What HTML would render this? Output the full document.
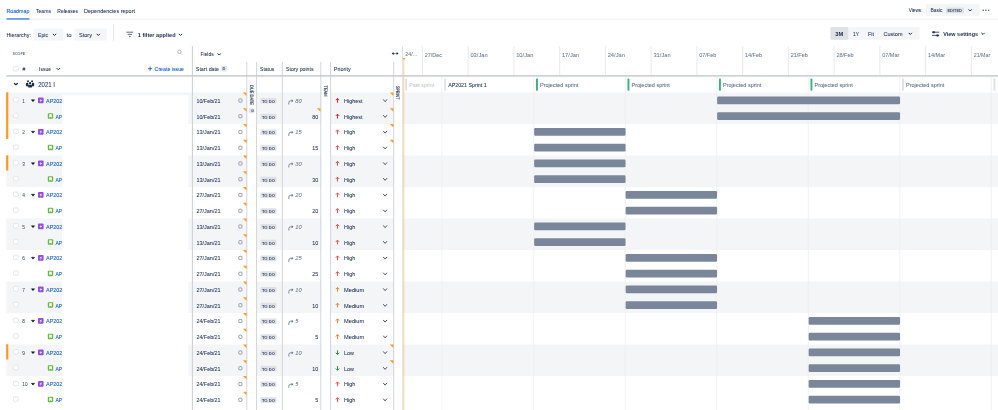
<!DOCTYPE html>
<html><head><meta charset="utf-8"><title>Roadmap</title>
<style>
html,body{margin:0;padding:0;background:#fff;}
body{width:998px;height:410px;overflow:hidden;font-family:"Liberation Sans",sans-serif;}
svg{display:block;font-family:"Liberation Sans",sans-serif;will-change:transform;}
</style></head><body>
<svg width="998" height="410" viewBox="0 0 998 410">
<rect width="998" height="410" fill="#fff"/>
<text x="6.4" y="13.4" font-size="5.9" fill="#0052cc" textLength="23" lengthAdjust="spacingAndGlyphs" stroke="#0052cc" stroke-width="0.05" >Roadmap</text>
<text x="36" y="13.4" font-size="5.9" fill="#172b4d" textLength="15" lengthAdjust="spacingAndGlyphs" stroke="#172b4d" stroke-width="0.05" >Teams</text>
<text x="57.3" y="13.4" font-size="5.9" fill="#172b4d" textLength="20.7" lengthAdjust="spacingAndGlyphs" stroke="#172b4d" stroke-width="0.05" >Releases</text>
<text x="84" y="13.4" font-size="5.9" fill="#172b4d" textLength="51" lengthAdjust="spacingAndGlyphs" stroke="#172b4d" stroke-width="0.05" >Dependencies report</text>
<line x1="0" y1="19.1" x2="998" y2="19.1" stroke="#ebecf0" stroke-width="0.9" />
<rect x="6.4" y="18.2" width="23" height="1.5" fill="#4c8be0" />
<text x="908.8" y="12.2" font-size="5.2" fill="#172b4d" textLength="13.7" lengthAdjust="spacingAndGlyphs" stroke="#172b4d" stroke-width="0.05" >Views:</text>
<rect x="925.8" y="4" width="53.8" height="11.9" fill="#f4f5f7" rx="1.2" />
<text x="930.5" y="12.2" font-size="5.9" fill="#172b4d" textLength="12" lengthAdjust="spacingAndGlyphs" stroke="#172b4d" stroke-width="0.05" >Basic</text>
<rect x="946" y="7.6" width="18" height="5.6" fill="#dfe1e6" rx="1" />
<text x="947.4" y="12.0" font-size="4.3" fill="#42526e" font-weight="bold" textLength="14.6" lengthAdjust="spacingAndGlyphs" >EDITED</text>
<polyline points="968.85,9.625 970.2,10.975000000000001 971.5500000000001,9.625" fill="none" stroke="#172b4d" stroke-width="1.0" stroke-linecap="round" stroke-linejoin="round"/>
<circle cx="983.2" cy="10.2" r="0.75" fill="#42526e"/>
<circle cx="985.9" cy="10.2" r="0.75" fill="#42526e"/>
<circle cx="988.6" cy="10.2" r="0.75" fill="#42526e"/>
<text x="6.4" y="36.7" font-size="5.9" fill="#172b4d" textLength="24.6" lengthAdjust="spacingAndGlyphs" stroke="#172b4d" stroke-width="0.05" >Hierarchy:</text>
<rect x="33.6" y="28.4" width="29.9" height="12.2" fill="#f4f5f7" rx="1.2" />
<text x="38" y="36.7" font-size="5.9" fill="#172b4d" textLength="10" lengthAdjust="spacingAndGlyphs" stroke="#172b4d" stroke-width="0.05" >Epic</text>
<polyline points="53.15,34.125 54.5,35.474999999999994 55.85,34.125" fill="none" stroke="#172b4d" stroke-width="1.0" stroke-linecap="round" stroke-linejoin="round"/>
<text x="66.5" y="36.7" font-size="5.9" fill="#172b4d" textLength="5" lengthAdjust="spacingAndGlyphs" stroke="#172b4d" stroke-width="0.05" >to</text>
<rect x="74.5" y="28.4" width="32.5" height="12.2" fill="#f4f5f7" rx="1.2" />
<text x="79" y="36.7" font-size="5.9" fill="#172b4d" textLength="13" lengthAdjust="spacingAndGlyphs" stroke="#172b4d" stroke-width="0.05" >Story</text>
<polyline points="96.95,34.125 98.3,35.474999999999994 99.64999999999999,34.125" fill="none" stroke="#172b4d" stroke-width="1.0" stroke-linecap="round" stroke-linejoin="round"/>
<line x1="113.5" y1="24" x2="113.5" y2="41.3" stroke="#dfe1e6" stroke-width="0.8" />
<line x1="126.4" y1="32.2" x2="133.2" y2="32.2" stroke="#172b4d" stroke-width="0.7" />
<line x1="127.6" y1="34.4" x2="132" y2="34.4" stroke="#172b4d" stroke-width="0.7" />
<line x1="129" y1="36.6" x2="130.6" y2="36.6" stroke="#172b4d" stroke-width="0.7" />
<text x="137.8" y="36.7" font-size="5.9" fill="#172b4d" font-weight="bold" textLength="37.8" lengthAdjust="spacingAndGlyphs" >1 filter applied</text>
<polyline points="179.15,34.125 180.5,35.474999999999994 181.85,34.125" fill="none" stroke="#172b4d" stroke-width="1.0" stroke-linecap="round" stroke-linejoin="round"/>
<rect x="830.5" y="27" width="89" height="12.7" fill="#f4f5f7" rx="1.2" />
<rect x="830.5" y="27" width="17.8" height="12.7" fill="#dfe1e6" rx="1.2" />
<text x="835.2" y="35.5" font-size="5.9" fill="#172b4d" font-weight="bold" textLength="8" lengthAdjust="spacingAndGlyphs" >3M</text>
<text x="853" y="35.5" font-size="5.9" fill="#172b4d" textLength="6" lengthAdjust="spacingAndGlyphs" stroke="#172b4d" stroke-width="0.05" >1Y</text>
<text x="868" y="35.5" font-size="5.9" fill="#172b4d" textLength="6" lengthAdjust="spacingAndGlyphs" stroke="#172b4d" stroke-width="0.05" >Fit</text>
<text x="883.5" y="35.5" font-size="5.9" fill="#172b4d" textLength="19" lengthAdjust="spacingAndGlyphs" stroke="#172b4d" stroke-width="0.05" >Custom</text>
<polyline points="908.9499999999999,33.125 910.3,34.474999999999994 911.65,33.125" fill="none" stroke="#172b4d" stroke-width="1.0" stroke-linecap="round" stroke-linejoin="round"/>
<line x1="932" y1="32.2" x2="939.2" y2="32.2" stroke="#172b4d" stroke-width="0.8" />
<line x1="932" y1="35.4" x2="939.2" y2="35.4" stroke="#172b4d" stroke-width="0.8" />
<rect x="932.6" y="31.2" width="2.2" height="2" fill="#172b4d" rx="0.4" />
<rect x="936.4" y="34.4" width="2.2" height="2" fill="#172b4d" rx="0.4" />
<text x="943.3" y="35.5" font-size="5.9" fill="#172b4d" font-weight="bold" textLength="34.7" lengthAdjust="spacingAndGlyphs" >View settings</text>
<polyline points="981.65,33.125 983,34.474999999999994 984.35,33.125" fill="none" stroke="#172b4d" stroke-width="1.0" stroke-linecap="round" stroke-linejoin="round"/>
<rect x="6.3" y="92.5" width="991.7" height="31.5" fill="#f4f5f7" />
<rect x="6.3" y="155.5" width="991.7" height="31.5" fill="#f4f5f7" />
<rect x="6.3" y="218.5" width="991.7" height="31.5" fill="#f4f5f7" />
<rect x="6.3" y="281.5" width="991.7" height="31.5" fill="#f4f5f7" />
<rect x="6.3" y="344.5" width="991.7" height="31.5" fill="#f4f5f7" />
<rect x="247.3" y="62" width="9.0" height="348" fill="#fff" />
<rect x="321.4" y="62" width="9.0" height="348" fill="#fff" />
<rect x="394" y="62" width="8.600000000000023" height="348" fill="#fff" />
<rect x="62" y="95.3" width="126.4" height="314.7" fill="#fff" />
<rect x="6.1" y="92.3" width="2.2" height="46.65" fill="#ff991f" />
<rect x="6.1" y="155.3" width="2.2" height="15.15" fill="#ff991f" />
<rect x="6.1" y="344.3" width="2.2" height="15.15" fill="#ff991f" />
<line x1="192.4" y1="46" x2="192.4" y2="410" stroke="#c9ced7" stroke-width="1" />
<line x1="246.8" y1="62" x2="246.8" y2="410" stroke="#d0d5dd" stroke-width="1.0" />
<line x1="256.6" y1="62" x2="256.6" y2="410" stroke="#d0d5dd" stroke-width="1.0" />
<line x1="282.3" y1="62" x2="282.3" y2="410" stroke="#d0d5dd" stroke-width="1.0" />
<line x1="320.8" y1="62" x2="320.8" y2="410" stroke="#d0d5dd" stroke-width="1.0" />
<line x1="330.6" y1="62" x2="330.6" y2="410" stroke="#d0d5dd" stroke-width="1.0" />
<line x1="393.7" y1="62" x2="393.7" y2="410" stroke="#d0d5dd" stroke-width="1.0" />
<line x1="402.6" y1="46" x2="402.6" y2="59" stroke="#dfe1e6" stroke-width="1" />
<line x1="422.4" y1="46" x2="422.4" y2="75.5" stroke="#e4e6ea" stroke-width="0.9" />
<text x="424.7" y="56.5" font-size="5.6" fill="#6b778c" textLength="17.2" lengthAdjust="spacingAndGlyphs" stroke="#6b778c" stroke-width="0.05" >27/Dec</text>
<line x1="468.15" y1="46" x2="468.15" y2="75.5" stroke="#e4e6ea" stroke-width="0.9" />
<text x="470.45" y="56.5" font-size="5.6" fill="#6b778c" textLength="17.2" lengthAdjust="spacingAndGlyphs" stroke="#6b778c" stroke-width="0.05" >03/Jan</text>
<line x1="513.9" y1="46" x2="513.9" y2="75.5" stroke="#e4e6ea" stroke-width="0.9" />
<text x="516.1999999999999" y="56.5" font-size="5.6" fill="#6b778c" textLength="17.2" lengthAdjust="spacingAndGlyphs" stroke="#6b778c" stroke-width="0.05" >10/Jan</text>
<line x1="559.65" y1="46" x2="559.65" y2="75.5" stroke="#e4e6ea" stroke-width="0.9" />
<text x="561.9499999999999" y="56.5" font-size="5.6" fill="#6b778c" textLength="17.2" lengthAdjust="spacingAndGlyphs" stroke="#6b778c" stroke-width="0.05" >17/Jan</text>
<line x1="605.4" y1="46" x2="605.4" y2="75.5" stroke="#e4e6ea" stroke-width="0.9" />
<text x="607.6999999999999" y="56.5" font-size="5.6" fill="#6b778c" textLength="17.2" lengthAdjust="spacingAndGlyphs" stroke="#6b778c" stroke-width="0.05" >24/Jan</text>
<line x1="651.15" y1="46" x2="651.15" y2="75.5" stroke="#e4e6ea" stroke-width="0.9" />
<text x="653.4499999999999" y="56.5" font-size="5.6" fill="#6b778c" textLength="17.2" lengthAdjust="spacingAndGlyphs" stroke="#6b778c" stroke-width="0.05" >31/Jan</text>
<line x1="696.9" y1="46" x2="696.9" y2="75.5" stroke="#e4e6ea" stroke-width="0.9" />
<text x="699.1999999999999" y="56.5" font-size="5.6" fill="#6b778c" textLength="17.2" lengthAdjust="spacingAndGlyphs" stroke="#6b778c" stroke-width="0.05" >07/Feb</text>
<line x1="742.65" y1="46" x2="742.65" y2="75.5" stroke="#e4e6ea" stroke-width="0.9" />
<text x="744.9499999999999" y="56.5" font-size="5.6" fill="#6b778c" textLength="17.2" lengthAdjust="spacingAndGlyphs" stroke="#6b778c" stroke-width="0.05" >14/Feb</text>
<line x1="788.4" y1="46" x2="788.4" y2="75.5" stroke="#e4e6ea" stroke-width="0.9" />
<text x="790.6999999999999" y="56.5" font-size="5.6" fill="#6b778c" textLength="17.2" lengthAdjust="spacingAndGlyphs" stroke="#6b778c" stroke-width="0.05" >21/Feb</text>
<line x1="834.15" y1="46" x2="834.15" y2="75.5" stroke="#e4e6ea" stroke-width="0.9" />
<text x="836.4499999999999" y="56.5" font-size="5.6" fill="#6b778c" textLength="17.2" lengthAdjust="spacingAndGlyphs" stroke="#6b778c" stroke-width="0.05" >28/Feb</text>
<line x1="879.9" y1="46" x2="879.9" y2="75.5" stroke="#e4e6ea" stroke-width="0.9" />
<text x="882.1999999999999" y="56.5" font-size="5.6" fill="#6b778c" textLength="17.2" lengthAdjust="spacingAndGlyphs" stroke="#6b778c" stroke-width="0.05" >07/Mar</text>
<line x1="925.65" y1="46" x2="925.65" y2="75.5" stroke="#e4e6ea" stroke-width="0.9" />
<text x="927.9499999999999" y="56.5" font-size="5.6" fill="#6b778c" textLength="17.2" lengthAdjust="spacingAndGlyphs" stroke="#6b778c" stroke-width="0.05" >14/Mar</text>
<line x1="971.4" y1="46" x2="971.4" y2="75.5" stroke="#e4e6ea" stroke-width="0.9" />
<text x="973.6999999999999" y="56.5" font-size="5.6" fill="#6b778c" textLength="16.6" lengthAdjust="spacingAndGlyphs" stroke="#6b778c" stroke-width="0.05" >21/Mar</text>
<text x="405.2" y="56.3" font-size="5.5" fill="#6b778c" textLength="12" lengthAdjust="spacingAndGlyphs" stroke="#6b778c" stroke-width="0.05" >24/...</text>
<line x1="441.9" y1="77" x2="441.9" y2="410" stroke="#eef0f2" stroke-width="0.9" />
<line x1="533.8" y1="77" x2="533.8" y2="410" stroke="#eef0f2" stroke-width="0.9" />
<line x1="625.3" y1="77" x2="625.3" y2="410" stroke="#eef0f2" stroke-width="0.9" />
<line x1="716.8" y1="77" x2="716.8" y2="410" stroke="#eef0f2" stroke-width="0.9" />
<line x1="808.3" y1="77" x2="808.3" y2="410" stroke="#eef0f2" stroke-width="0.9" />
<line x1="899.8" y1="77" x2="899.8" y2="410" stroke="#eef0f2" stroke-width="0.9" />
<line x1="991.3" y1="77" x2="991.3" y2="410" stroke="#eef0f2" stroke-width="0.9" />
<line x1="402.75" y1="59" x2="402.75" y2="410" stroke="#d3d7df" stroke-width="0.8" />
<rect x="403.35" y="59.5" width="0.9" height="350.5" fill="#fbcd85" />
<polygon points="402.3,57.9 405.5,57.9 403.9,60.1" fill="#ff991f"/>
<text x="12.5" y="55.0" font-size="3.9" fill="#6b778c" font-weight="bold" textLength="12.8" lengthAdjust="spacingAndGlyphs" >SCOPE</text>
<circle cx="179.3" cy="51.8" r="1.7" fill="none" stroke="#97a0af" stroke-width="0.7"/>
<line x1="180.6" y1="53.1" x2="182" y2="54.5" stroke="#97a0af" stroke-width="0.7" />
<text x="200.6" y="56.1" font-size="5.9" fill="#172b4d" textLength="13" lengthAdjust="spacingAndGlyphs" stroke="#172b4d" stroke-width="0.05" >Fields</text>
<polyline points="217.85,53.725 219.2,55.074999999999996 220.54999999999998,53.725" fill="none" stroke="#172b4d" stroke-width="1.0" stroke-linecap="round" stroke-linejoin="round"/>
<polygon points="391.7,53.6 393.6,52.1 393.6,55.1" fill="#172b4d"/><polygon points="398.5,53.6 396.6,52.1 396.6,55.1" fill="#172b4d"/>
<line x1="393.4" y1="53.6" x2="394.7" y2="53.6" stroke="#172b4d" stroke-width="0.9" />
<line x1="395.5" y1="53.6" x2="396.8" y2="53.6" stroke="#172b4d" stroke-width="0.9" />
<rect x="13.3" y="66.4" width="5" height="4.6" rx="0.9" fill="#fff" stroke="#dfe1e6" stroke-width="0.8"/>
<text x="22.4" y="70.6" font-size="5.2" fill="#172b4d" textLength="2.8" lengthAdjust="spacingAndGlyphs" stroke="#172b4d" stroke-width="0.05" >#</text>
<text x="39" y="70.6" font-size="5.9" fill="#172b4d" textLength="12" lengthAdjust="spacingAndGlyphs" stroke="#172b4d" stroke-width="0.05" >Issue</text>
<polyline points="56.949999999999996,68.325 58.3,69.675 59.65,68.325" fill="none" stroke="#172b4d" stroke-width="1.0" stroke-linecap="round" stroke-linejoin="round"/>
<line x1="148" y1="68.7" x2="152.2" y2="68.7" stroke="#0052cc" stroke-width="0.8" />
<line x1="150.1" y1="66.6" x2="150.1" y2="70.8" stroke="#0052cc" stroke-width="0.8" />
<text x="154.6" y="70.6" font-size="5.9" fill="#0052cc" textLength="29.4" lengthAdjust="spacingAndGlyphs" stroke="#0052cc" stroke-width="0.05" >Create issue</text>
<text x="195.8" y="70.6" font-size="5.9" fill="#172b4d" textLength="23.3" lengthAdjust="spacingAndGlyphs" stroke="#172b4d" stroke-width="0.05" >Start date</text>
<rect x="221.3" y="66.0" width="5.4" height="5.4" fill="#dfe1e6" rx="0.8" />
<text x="224.0" y="70.2" font-size="3.9" fill="#42526e" font-weight="bold" text-anchor="middle" >D</text>
<text x="260" y="70.6" font-size="5.9" fill="#172b4d" textLength="14.4" lengthAdjust="spacingAndGlyphs" stroke="#172b4d" stroke-width="0.05" >Status</text>
<text x="286" y="70.6" font-size="5.9" fill="#172b4d" textLength="27.6" lengthAdjust="spacingAndGlyphs" stroke="#172b4d" stroke-width="0.05" >Story points</text>
<text x="333.8" y="70.6" font-size="5.9" fill="#172b4d" textLength="17" lengthAdjust="spacingAndGlyphs" stroke="#172b4d" stroke-width="0.05" >Priority</text>
<rect x="6.3" y="75.2" width="991.7" height="1.4" fill="#c1c7d0" />
<text transform="translate(249.95,85) rotate(90)" text-rendering="geometricPrecision" font-size="4.9" fill="#42526e" stroke="#42526e" stroke-width="0.22" textLength="20" lengthAdjust="spacingAndGlyphs">DUE DATE</text>
<rect x="249.2" y="108.2" width="5" height="5" fill="#dfe1e6" rx="0.8" />
<text transform="translate(250.5,110.7) rotate(90)" font-size="3.4" font-weight="bold" fill="#42526e" text-anchor="middle">D</text>
<text transform="translate(324.25,85.5) rotate(90)" text-rendering="geometricPrecision" font-size="4.9" fill="#42526e" stroke="#42526e" stroke-width="0.22" textLength="11" lengthAdjust="spacingAndGlyphs">TEAM</text>
<text transform="translate(395.75,86) rotate(90)" text-rendering="geometricPrecision" font-size="4.9" fill="#42526e" stroke="#42526e" stroke-width="0.22" textLength="13.4" lengthAdjust="spacingAndGlyphs">SPRINT</text>
<rect x="405.2" y="78.5" width="1.9" height="12.2" fill="#dfe1e6" rx="0.6" />
<text x="409.2" y="86.7" font-size="5.6" fill="#c1c7d0" textLength="25" lengthAdjust="spacingAndGlyphs" stroke="#c1c7d0" stroke-width="0.05" >Past sprint</text>
<rect x="444.2" y="78.5" width="1.9" height="12.2" fill="#dfe1e6" rx="0.6" />
<text x="448.2" y="86.7" font-size="5.6" fill="#172b4d" textLength="38.5" lengthAdjust="spacingAndGlyphs" stroke="#172b4d" stroke-width="0.05" >AP2021 Sprint 1</text>
<rect x="536.0" y="78.5" width="1.9" height="12.2" fill="#36b37e" rx="0.6" />
<text x="540.0" y="86.7" font-size="5.6" fill="#5e6c84" textLength="38.4" lengthAdjust="spacingAndGlyphs" stroke="#5e6c84" stroke-width="0.05" >Projected sprint</text>
<rect x="627.5" y="78.5" width="1.9" height="12.2" fill="#36b37e" rx="0.6" />
<text x="631.5" y="86.7" font-size="5.6" fill="#5e6c84" textLength="38.4" lengthAdjust="spacingAndGlyphs" stroke="#5e6c84" stroke-width="0.05" >Projected sprint</text>
<rect x="719.0" y="78.5" width="1.9" height="12.2" fill="#36b37e" rx="0.6" />
<text x="723.0" y="86.7" font-size="5.6" fill="#5e6c84" textLength="38.4" lengthAdjust="spacingAndGlyphs" stroke="#5e6c84" stroke-width="0.05" >Projected sprint</text>
<rect x="810.5" y="78.5" width="1.9" height="12.2" fill="#36b37e" rx="0.6" />
<text x="814.5" y="86.7" font-size="5.6" fill="#5e6c84" textLength="38.4" lengthAdjust="spacingAndGlyphs" stroke="#5e6c84" stroke-width="0.05" >Projected sprint</text>
<rect x="902.0" y="78.5" width="1.9" height="12.2" fill="#dfe1e6" rx="0.6" />
<text x="906.0" y="86.7" font-size="5.6" fill="#5e6c84" textLength="38.4" lengthAdjust="spacingAndGlyphs" stroke="#5e6c84" stroke-width="0.05" >Projected sprint</text>
<rect x="993.5" y="78.5" width="1.9" height="12.2" fill="#dfe1e6" rx="0.6" />
<text x="997.5" y="86.7" font-size="5.6" fill="#5e6c84" stroke="#5e6c84" stroke-width="0.05" ></text>
<polyline points="14.4,83.44999999999999 15.9,84.75 17.4,83.44999999999999" fill="none" stroke="#172b4d" stroke-width="1.2" stroke-linecap="round" stroke-linejoin="round"/>
<g fill="#172b4d"><circle cx="28" cy="81.3" r="0.95"/><circle cx="32.1" cy="81.3" r="0.95"/><circle cx="30.05" cy="83.2" r="1.15"/><rect x="25.9" y="82.8" width="2.5" height="3.6" rx="1.1"/><rect x="31.7" y="82.8" width="2.5" height="3.6" rx="1.1"/><rect x="28.1" y="84.8" width="3.9" height="2.8" rx="1.2"/></g>
<text x="38.2" y="86.8" font-size="6.6" fill="#172b4d" textLength="16.8" lengthAdjust="spacingAndGlyphs" stroke="#172b4d" stroke-width="0.05" >2021 I</text>
<rect x="13.4" y="97.6" width="4.9" height="4.5" rx="0.9" fill="#fff" stroke="#dfe1e6" stroke-width="0.8"/>
<text x="22.3" y="102.82499999999999" font-size="5.6" fill="#42526e" textLength="2.7" lengthAdjust="spacingAndGlyphs" stroke="#42526e" stroke-width="0.05" >1</text>
<polygon points="31.4,99.77499999999999 34.6,99.77499999999999 33,101.675" fill="#0d1424" stroke="#0d1424" stroke-width="0.5" stroke-linejoin="round"/>
<rect x="38" y="97.6" width="5.6" height="5.6" fill="#904ee2" rx="0.9" />
<path d="M41.6,98.5 L39.4,100.8 L40.8,100.8 L40.0,102.4 L42.2,100.0 L40.8,100.0 Z" fill="#fff"/>
<text x="46" y="102.82499999999999" font-size="5.9" fill="#0052cc" textLength="16.4" lengthAdjust="spacingAndGlyphs" stroke="#0052cc" stroke-width="0.05" >AP202</text>
<text x="196.4" y="102.82499999999999" font-size="5.9" fill="#172b4d" textLength="24.2" lengthAdjust="spacingAndGlyphs" stroke="#172b4d" stroke-width="0.05" >10/Feb/21</text>
<circle cx="240.4" cy="100.475" r="1.7" fill="none" stroke="#9da6b5" stroke-width="1.05"/>
<polygon points="242.9,92.5 246.5,92.5 246.5,96.1" fill="#ff991f"/>
<rect x="260.4" y="98.07499999999999" width="16.1" height="5.5" fill="#dfe1e6" rx="0.8" />
<text x="261.9" y="102.82499999999999" font-size="4.3" fill="#42526e" font-weight="bold" textLength="13.0" lengthAdjust="spacingAndGlyphs" >TO DO</text>
<path d="M288.8,104.475 v-1.8 q0,-1.9 1.9,-1.9 h1.6" fill="none" stroke="#6b778c" stroke-width="0.85"/><polygon points="291.7,99.175 293.4,100.77499999999999 291.7,102.375" fill="#6b778c"/>
<text x="295.2" y="102.82499999999999" font-size="5.3" fill="#6b778c" font-style="italic" textLength="6.4" lengthAdjust="spacingAndGlyphs" stroke="#6b778c" stroke-width="0.05" >80</text>
<path d="M337.5,102.77499999999999 V98.475 M335.8,100.175 L337.5,98.375 L339.2,100.175" fill="none" stroke="#dd1f2c" stroke-width="0.95"/>
<text x="344" y="102.82499999999999" font-size="5.9" fill="#172b4d" textLength="18.5" lengthAdjust="spacingAndGlyphs" stroke="#172b4d" stroke-width="0.05" >Highest</text>
<polyline points="383.45000000000005,99.725 385.1,101.625 386.75,99.725" fill="none" stroke="#42526e" stroke-width="1.0" stroke-linecap="round" stroke-linejoin="round"/>
<polygon points="389.79999999999995,92.5 393.4,92.5 393.4,96.1" fill="#ff991f"/>
<rect x="717.15" y="96.6" width="182.9" height="7.6" fill="#7a869a" rx="1.2" />
<rect x="13.4" y="113.35" width="4.9" height="4.5" rx="0.9" fill="#fff" stroke="#dfe1e6" stroke-width="0.8"/>
<rect x="47.8" y="113.15" width="5.4" height="5.6" fill="#63ba3c" rx="0.9" />
<path d="M49.15,114.2 h2.7 v3.6 l-1.35,-1.0 l-1.35,1.0 Z" fill="#fff"/>
<text x="55.4" y="118.57499999999999" font-size="5.9" fill="#0052cc" textLength="6.7" lengthAdjust="spacingAndGlyphs" stroke="#0052cc" stroke-width="0.05" >AP</text>
<text x="196.4" y="118.57499999999999" font-size="5.9" fill="#172b4d" textLength="24.2" lengthAdjust="spacingAndGlyphs" stroke="#172b4d" stroke-width="0.05" >10/Feb/21</text>
<circle cx="240.4" cy="116.225" r="1.7" fill="none" stroke="#9da6b5" stroke-width="1.05"/>
<polygon points="242.9,108.25 246.5,108.25 246.5,111.85" fill="#ff991f"/>
<rect x="260.4" y="113.82499999999999" width="16.1" height="5.5" fill="#dfe1e6" rx="0.8" />
<text x="261.9" y="118.57499999999999" font-size="4.3" fill="#42526e" font-weight="bold" textLength="13.0" lengthAdjust="spacingAndGlyphs" >TO DO</text>
<text x="318.3" y="118.57499999999999" font-size="5.9" fill="#172b4d" text-anchor="end" textLength="6" lengthAdjust="spacingAndGlyphs" stroke="#172b4d" stroke-width="0.05" >80</text>
<polygon points="316.9,108.25 320.5,108.25 320.5,111.85" fill="#ff991f"/>
<path d="M337.5,118.52499999999999 V114.225 M335.8,115.925 L337.5,114.125 L339.2,115.925" fill="none" stroke="#dd1f2c" stroke-width="0.95"/>
<text x="344" y="118.57499999999999" font-size="5.9" fill="#172b4d" textLength="18.5" lengthAdjust="spacingAndGlyphs" stroke="#172b4d" stroke-width="0.05" >Highest</text>
<polyline points="383.45000000000005,115.475 385.1,117.375 386.75,115.475" fill="none" stroke="#42526e" stroke-width="1.0" stroke-linecap="round" stroke-linejoin="round"/>
<polygon points="389.79999999999995,108.25 393.4,108.25 393.4,111.85" fill="#ff991f"/>
<rect x="717.15" y="112.35" width="182.9" height="7.6" fill="#7a869a" rx="1.2" />
<rect x="13.4" y="129.1" width="4.9" height="4.5" rx="0.9" fill="#fff" stroke="#dfe1e6" stroke-width="0.8"/>
<text x="22.3" y="134.325" font-size="5.6" fill="#42526e" textLength="2.7" lengthAdjust="spacingAndGlyphs" stroke="#42526e" stroke-width="0.05" >2</text>
<polygon points="31.4,131.275 34.6,131.275 33,133.17499999999998" fill="#0d1424" stroke="#0d1424" stroke-width="0.5" stroke-linejoin="round"/>
<rect x="38" y="129.1" width="5.6" height="5.6" fill="#904ee2" rx="0.9" />
<path d="M41.6,130.0 L39.4,132.3 L40.8,132.3 L40.0,133.9 L42.2,131.5 L40.8,131.5 Z" fill="#fff"/>
<text x="46" y="134.325" font-size="5.9" fill="#0052cc" textLength="16.4" lengthAdjust="spacingAndGlyphs" stroke="#0052cc" stroke-width="0.05" >AP202</text>
<text x="196.4" y="134.325" font-size="5.9" fill="#172b4d" textLength="24.2" lengthAdjust="spacingAndGlyphs" stroke="#172b4d" stroke-width="0.05" >13/Jan/21</text>
<circle cx="240.4" cy="131.975" r="1.7" fill="none" stroke="#9da6b5" stroke-width="1.05"/>
<polygon points="242.9,124.0 246.5,124.0 246.5,127.6" fill="#ff991f"/>
<rect x="260.4" y="129.575" width="16.1" height="5.5" fill="#dfe1e6" rx="0.8" />
<text x="261.9" y="134.325" font-size="4.3" fill="#42526e" font-weight="bold" textLength="13.0" lengthAdjust="spacingAndGlyphs" >TO DO</text>
<path d="M288.8,135.975 v-1.8 q0,-1.9 1.9,-1.9 h1.6" fill="none" stroke="#6b778c" stroke-width="0.85"/><polygon points="291.7,130.67499999999998 293.4,132.275 291.7,133.875" fill="#6b778c"/>
<text x="295.2" y="134.325" font-size="5.3" fill="#6b778c" font-style="italic" textLength="6.4" lengthAdjust="spacingAndGlyphs" stroke="#6b778c" stroke-width="0.05" >15</text>
<path d="M337.5,134.275 V129.975 M335.8,131.67499999999998 L337.5,129.875 L339.2,131.67499999999998" fill="none" stroke="#ef4a45" stroke-width="0.95"/>
<text x="344" y="134.325" font-size="5.9" fill="#172b4d" textLength="11.2" lengthAdjust="spacingAndGlyphs" stroke="#172b4d" stroke-width="0.05" >High</text>
<polyline points="383.45000000000005,131.225 385.1,133.12499999999997 386.75,131.225" fill="none" stroke="#42526e" stroke-width="1.0" stroke-linecap="round" stroke-linejoin="round"/>
<polygon points="389.79999999999995,124.0 393.4,124.0 393.4,127.6" fill="#ff991f"/>
<rect x="534.15" y="128.1" width="91.4" height="7.6" fill="#7a869a" rx="1.2" />
<rect x="13.4" y="144.85" width="4.9" height="4.5" rx="0.9" fill="#fff" stroke="#dfe1e6" stroke-width="0.8"/>
<rect x="47.8" y="144.65" width="5.4" height="5.6" fill="#63ba3c" rx="0.9" />
<path d="M49.15,145.7 h2.7 v3.6 l-1.35,-1.0 l-1.35,1.0 Z" fill="#fff"/>
<text x="55.4" y="150.075" font-size="5.9" fill="#0052cc" textLength="6.7" lengthAdjust="spacingAndGlyphs" stroke="#0052cc" stroke-width="0.05" >AP</text>
<text x="196.4" y="150.075" font-size="5.9" fill="#172b4d" textLength="24.2" lengthAdjust="spacingAndGlyphs" stroke="#172b4d" stroke-width="0.05" >13/Jan/21</text>
<circle cx="240.4" cy="147.725" r="1.7" fill="none" stroke="#9da6b5" stroke-width="1.05"/>
<polygon points="242.9,139.75 246.5,139.75 246.5,143.35" fill="#ff991f"/>
<rect x="260.4" y="145.325" width="16.1" height="5.5" fill="#dfe1e6" rx="0.8" />
<text x="261.9" y="150.075" font-size="4.3" fill="#42526e" font-weight="bold" textLength="13.0" lengthAdjust="spacingAndGlyphs" >TO DO</text>
<text x="318.3" y="150.075" font-size="5.9" fill="#172b4d" text-anchor="end" textLength="6" lengthAdjust="spacingAndGlyphs" stroke="#172b4d" stroke-width="0.05" >15</text>
<path d="M337.5,150.025 V145.725 M335.8,147.42499999999998 L337.5,145.625 L339.2,147.42499999999998" fill="none" stroke="#ef4a45" stroke-width="0.95"/>
<text x="344" y="150.075" font-size="5.9" fill="#172b4d" textLength="11.2" lengthAdjust="spacingAndGlyphs" stroke="#172b4d" stroke-width="0.05" >High</text>
<polyline points="383.45000000000005,146.975 385.1,148.87499999999997 386.75,146.975" fill="none" stroke="#42526e" stroke-width="1.0" stroke-linecap="round" stroke-linejoin="round"/>
<polygon points="389.79999999999995,139.75 393.4,139.75 393.4,143.35" fill="#ff991f"/>
<rect x="534.15" y="143.85" width="91.4" height="7.6" fill="#7a869a" rx="1.2" />
<rect x="13.4" y="160.6" width="4.9" height="4.5" rx="0.9" fill="#fff" stroke="#dfe1e6" stroke-width="0.8"/>
<text x="22.3" y="165.825" font-size="5.6" fill="#42526e" textLength="2.7" lengthAdjust="spacingAndGlyphs" stroke="#42526e" stroke-width="0.05" >3</text>
<polygon points="31.4,162.775 34.6,162.775 33,164.67499999999998" fill="#0d1424" stroke="#0d1424" stroke-width="0.5" stroke-linejoin="round"/>
<rect x="38" y="160.6" width="5.6" height="5.6" fill="#904ee2" rx="0.9" />
<path d="M41.6,161.5 L39.4,163.8 L40.8,163.8 L40.0,165.4 L42.2,163.0 L40.8,163.0 Z" fill="#fff"/>
<text x="46" y="165.825" font-size="5.9" fill="#0052cc" textLength="16.4" lengthAdjust="spacingAndGlyphs" stroke="#0052cc" stroke-width="0.05" >AP202</text>
<text x="196.4" y="165.825" font-size="5.9" fill="#172b4d" textLength="24.2" lengthAdjust="spacingAndGlyphs" stroke="#172b4d" stroke-width="0.05" >13/Jan/21</text>
<circle cx="240.4" cy="163.475" r="1.7" fill="none" stroke="#9da6b5" stroke-width="1.05"/>
<polygon points="242.9,155.5 246.5,155.5 246.5,159.1" fill="#ff991f"/>
<rect x="260.4" y="161.075" width="16.1" height="5.5" fill="#dfe1e6" rx="0.8" />
<text x="261.9" y="165.825" font-size="4.3" fill="#42526e" font-weight="bold" textLength="13.0" lengthAdjust="spacingAndGlyphs" >TO DO</text>
<path d="M288.8,167.475 v-1.8 q0,-1.9 1.9,-1.9 h1.6" fill="none" stroke="#6b778c" stroke-width="0.85"/><polygon points="291.7,162.17499999999998 293.4,163.775 291.7,165.375" fill="#6b778c"/>
<text x="295.2" y="165.825" font-size="5.3" fill="#6b778c" font-style="italic" textLength="6.4" lengthAdjust="spacingAndGlyphs" stroke="#6b778c" stroke-width="0.05" >30</text>
<path d="M337.5,165.775 V161.475 M335.8,163.17499999999998 L337.5,161.375 L339.2,163.17499999999998" fill="none" stroke="#ef4a45" stroke-width="0.95"/>
<text x="344" y="165.825" font-size="5.9" fill="#172b4d" textLength="11.2" lengthAdjust="spacingAndGlyphs" stroke="#172b4d" stroke-width="0.05" >High</text>
<polyline points="383.45000000000005,162.725 385.1,164.62499999999997 386.75,162.725" fill="none" stroke="#42526e" stroke-width="1.0" stroke-linecap="round" stroke-linejoin="round"/>
<rect x="534.15" y="159.6" width="91.4" height="7.6" fill="#7a869a" rx="1.2" />
<rect x="13.4" y="176.35" width="4.9" height="4.5" rx="0.9" fill="#fff" stroke="#dfe1e6" stroke-width="0.8"/>
<rect x="47.8" y="176.15" width="5.4" height="5.6" fill="#63ba3c" rx="0.9" />
<path d="M49.15,177.2 h2.7 v3.6 l-1.35,-1.0 l-1.35,1.0 Z" fill="#fff"/>
<text x="55.4" y="181.575" font-size="5.9" fill="#0052cc" textLength="6.7" lengthAdjust="spacingAndGlyphs" stroke="#0052cc" stroke-width="0.05" >AP</text>
<text x="196.4" y="181.575" font-size="5.9" fill="#172b4d" textLength="24.2" lengthAdjust="spacingAndGlyphs" stroke="#172b4d" stroke-width="0.05" >13/Jan/21</text>
<circle cx="240.4" cy="179.225" r="1.7" fill="none" stroke="#9da6b5" stroke-width="1.05"/>
<polygon points="242.9,171.25 246.5,171.25 246.5,174.85" fill="#ff991f"/>
<rect x="260.4" y="176.825" width="16.1" height="5.5" fill="#dfe1e6" rx="0.8" />
<text x="261.9" y="181.575" font-size="4.3" fill="#42526e" font-weight="bold" textLength="13.0" lengthAdjust="spacingAndGlyphs" >TO DO</text>
<text x="318.3" y="181.575" font-size="5.9" fill="#172b4d" text-anchor="end" textLength="6" lengthAdjust="spacingAndGlyphs" stroke="#172b4d" stroke-width="0.05" >30</text>
<path d="M337.5,181.525 V177.225 M335.8,178.92499999999998 L337.5,177.125 L339.2,178.92499999999998" fill="none" stroke="#ef4a45" stroke-width="0.95"/>
<text x="344" y="181.575" font-size="5.9" fill="#172b4d" textLength="11.2" lengthAdjust="spacingAndGlyphs" stroke="#172b4d" stroke-width="0.05" >High</text>
<polyline points="383.45000000000005,178.475 385.1,180.37499999999997 386.75,178.475" fill="none" stroke="#42526e" stroke-width="1.0" stroke-linecap="round" stroke-linejoin="round"/>
<rect x="534.15" y="175.35" width="91.4" height="7.6" fill="#7a869a" rx="1.2" />
<rect x="13.4" y="192.1" width="4.9" height="4.5" rx="0.9" fill="#fff" stroke="#dfe1e6" stroke-width="0.8"/>
<text x="22.3" y="197.325" font-size="5.6" fill="#42526e" textLength="2.7" lengthAdjust="spacingAndGlyphs" stroke="#42526e" stroke-width="0.05" >4</text>
<polygon points="31.4,194.275 34.6,194.275 33,196.17499999999998" fill="#0d1424" stroke="#0d1424" stroke-width="0.5" stroke-linejoin="round"/>
<rect x="38" y="192.1" width="5.6" height="5.6" fill="#904ee2" rx="0.9" />
<path d="M41.6,193.0 L39.4,195.3 L40.8,195.3 L40.0,196.9 L42.2,194.5 L40.8,194.5 Z" fill="#fff"/>
<text x="46" y="197.325" font-size="5.9" fill="#0052cc" textLength="16.4" lengthAdjust="spacingAndGlyphs" stroke="#0052cc" stroke-width="0.05" >AP202</text>
<text x="196.4" y="197.325" font-size="5.9" fill="#172b4d" textLength="24.2" lengthAdjust="spacingAndGlyphs" stroke="#172b4d" stroke-width="0.05" >27/Jan/21</text>
<circle cx="240.4" cy="194.975" r="1.7" fill="none" stroke="#9da6b5" stroke-width="1.05"/>
<polygon points="242.9,187.0 246.5,187.0 246.5,190.6" fill="#ff991f"/>
<rect x="260.4" y="192.575" width="16.1" height="5.5" fill="#dfe1e6" rx="0.8" />
<text x="261.9" y="197.325" font-size="4.3" fill="#42526e" font-weight="bold" textLength="13.0" lengthAdjust="spacingAndGlyphs" >TO DO</text>
<path d="M288.8,198.975 v-1.8 q0,-1.9 1.9,-1.9 h1.6" fill="none" stroke="#6b778c" stroke-width="0.85"/><polygon points="291.7,193.67499999999998 293.4,195.275 291.7,196.875" fill="#6b778c"/>
<text x="295.2" y="197.325" font-size="5.3" fill="#6b778c" font-style="italic" textLength="6.4" lengthAdjust="spacingAndGlyphs" stroke="#6b778c" stroke-width="0.05" >20</text>
<path d="M337.5,197.275 V192.975 M335.8,194.67499999999998 L337.5,192.875 L339.2,194.67499999999998" fill="none" stroke="#ef4a45" stroke-width="0.95"/>
<text x="344" y="197.325" font-size="5.9" fill="#172b4d" textLength="11.2" lengthAdjust="spacingAndGlyphs" stroke="#172b4d" stroke-width="0.05" >High</text>
<polyline points="383.45000000000005,194.225 385.1,196.12499999999997 386.75,194.225" fill="none" stroke="#42526e" stroke-width="1.0" stroke-linecap="round" stroke-linejoin="round"/>
<rect x="625.65" y="191.1" width="91.4" height="7.6" fill="#7a869a" rx="1.2" />
<rect x="13.4" y="207.85" width="4.9" height="4.5" rx="0.9" fill="#fff" stroke="#dfe1e6" stroke-width="0.8"/>
<rect x="47.8" y="207.65" width="5.4" height="5.6" fill="#63ba3c" rx="0.9" />
<path d="M49.15,208.7 h2.7 v3.6 l-1.35,-1.0 l-1.35,1.0 Z" fill="#fff"/>
<text x="55.4" y="213.075" font-size="5.9" fill="#0052cc" textLength="6.7" lengthAdjust="spacingAndGlyphs" stroke="#0052cc" stroke-width="0.05" >AP</text>
<text x="196.4" y="213.075" font-size="5.9" fill="#172b4d" textLength="24.2" lengthAdjust="spacingAndGlyphs" stroke="#172b4d" stroke-width="0.05" >27/Jan/21</text>
<circle cx="240.4" cy="210.725" r="1.7" fill="none" stroke="#9da6b5" stroke-width="1.05"/>
<polygon points="242.9,202.75 246.5,202.75 246.5,206.35" fill="#ff991f"/>
<rect x="260.4" y="208.325" width="16.1" height="5.5" fill="#dfe1e6" rx="0.8" />
<text x="261.9" y="213.075" font-size="4.3" fill="#42526e" font-weight="bold" textLength="13.0" lengthAdjust="spacingAndGlyphs" >TO DO</text>
<text x="318.3" y="213.075" font-size="5.9" fill="#172b4d" text-anchor="end" textLength="6" lengthAdjust="spacingAndGlyphs" stroke="#172b4d" stroke-width="0.05" >20</text>
<path d="M337.5,213.025 V208.725 M335.8,210.42499999999998 L337.5,208.625 L339.2,210.42499999999998" fill="none" stroke="#ef4a45" stroke-width="0.95"/>
<text x="344" y="213.075" font-size="5.9" fill="#172b4d" textLength="11.2" lengthAdjust="spacingAndGlyphs" stroke="#172b4d" stroke-width="0.05" >High</text>
<polyline points="383.45000000000005,209.975 385.1,211.87499999999997 386.75,209.975" fill="none" stroke="#42526e" stroke-width="1.0" stroke-linecap="round" stroke-linejoin="round"/>
<rect x="625.65" y="206.85" width="91.4" height="7.6" fill="#7a869a" rx="1.2" />
<rect x="13.4" y="223.6" width="4.9" height="4.5" rx="0.9" fill="#fff" stroke="#dfe1e6" stroke-width="0.8"/>
<text x="22.3" y="228.825" font-size="5.6" fill="#42526e" textLength="2.7" lengthAdjust="spacingAndGlyphs" stroke="#42526e" stroke-width="0.05" >5</text>
<polygon points="31.4,225.775 34.6,225.775 33,227.67499999999998" fill="#0d1424" stroke="#0d1424" stroke-width="0.5" stroke-linejoin="round"/>
<rect x="38" y="223.6" width="5.6" height="5.6" fill="#904ee2" rx="0.9" />
<path d="M41.6,224.5 L39.4,226.8 L40.8,226.8 L40.0,228.4 L42.2,226.0 L40.8,226.0 Z" fill="#fff"/>
<text x="46" y="228.825" font-size="5.9" fill="#0052cc" textLength="16.4" lengthAdjust="spacingAndGlyphs" stroke="#0052cc" stroke-width="0.05" >AP202</text>
<text x="196.4" y="228.825" font-size="5.9" fill="#172b4d" textLength="24.2" lengthAdjust="spacingAndGlyphs" stroke="#172b4d" stroke-width="0.05" >13/Jan/21</text>
<circle cx="240.4" cy="226.475" r="1.7" fill="none" stroke="#9da6b5" stroke-width="1.05"/>
<polygon points="242.9,218.5 246.5,218.5 246.5,222.1" fill="#ff991f"/>
<rect x="260.4" y="224.075" width="16.1" height="5.5" fill="#dfe1e6" rx="0.8" />
<text x="261.9" y="228.825" font-size="4.3" fill="#42526e" font-weight="bold" textLength="13.0" lengthAdjust="spacingAndGlyphs" >TO DO</text>
<path d="M288.8,230.475 v-1.8 q0,-1.9 1.9,-1.9 h1.6" fill="none" stroke="#6b778c" stroke-width="0.85"/><polygon points="291.7,225.17499999999998 293.4,226.775 291.7,228.375" fill="#6b778c"/>
<text x="295.2" y="228.825" font-size="5.3" fill="#6b778c" font-style="italic" textLength="6.4" lengthAdjust="spacingAndGlyphs" stroke="#6b778c" stroke-width="0.05" >10</text>
<path d="M337.5,228.775 V224.475 M335.8,226.17499999999998 L337.5,224.375 L339.2,226.17499999999998" fill="none" stroke="#ef4a45" stroke-width="0.95"/>
<text x="344" y="228.825" font-size="5.9" fill="#172b4d" textLength="11.2" lengthAdjust="spacingAndGlyphs" stroke="#172b4d" stroke-width="0.05" >High</text>
<polyline points="383.45000000000005,225.725 385.1,227.62499999999997 386.75,225.725" fill="none" stroke="#42526e" stroke-width="1.0" stroke-linecap="round" stroke-linejoin="round"/>
<rect x="534.15" y="222.6" width="91.4" height="7.6" fill="#7a869a" rx="1.2" />
<rect x="13.4" y="239.35" width="4.9" height="4.5" rx="0.9" fill="#fff" stroke="#dfe1e6" stroke-width="0.8"/>
<rect x="47.8" y="239.15" width="5.4" height="5.6" fill="#63ba3c" rx="0.9" />
<path d="M49.15,240.2 h2.7 v3.6 l-1.35,-1.0 l-1.35,1.0 Z" fill="#fff"/>
<text x="55.4" y="244.575" font-size="5.9" fill="#0052cc" textLength="6.7" lengthAdjust="spacingAndGlyphs" stroke="#0052cc" stroke-width="0.05" >AP</text>
<text x="196.4" y="244.575" font-size="5.9" fill="#172b4d" textLength="24.2" lengthAdjust="spacingAndGlyphs" stroke="#172b4d" stroke-width="0.05" >13/Jan/21</text>
<circle cx="240.4" cy="242.225" r="1.7" fill="none" stroke="#9da6b5" stroke-width="1.05"/>
<polygon points="242.9,234.25 246.5,234.25 246.5,237.85" fill="#ff991f"/>
<rect x="260.4" y="239.825" width="16.1" height="5.5" fill="#dfe1e6" rx="0.8" />
<text x="261.9" y="244.575" font-size="4.3" fill="#42526e" font-weight="bold" textLength="13.0" lengthAdjust="spacingAndGlyphs" >TO DO</text>
<text x="318.3" y="244.575" font-size="5.9" fill="#172b4d" text-anchor="end" textLength="6" lengthAdjust="spacingAndGlyphs" stroke="#172b4d" stroke-width="0.05" >10</text>
<path d="M337.5,244.525 V240.225 M335.8,241.92499999999998 L337.5,240.125 L339.2,241.92499999999998" fill="none" stroke="#ef4a45" stroke-width="0.95"/>
<text x="344" y="244.575" font-size="5.9" fill="#172b4d" textLength="11.2" lengthAdjust="spacingAndGlyphs" stroke="#172b4d" stroke-width="0.05" >High</text>
<polyline points="383.45000000000005,241.475 385.1,243.37499999999997 386.75,241.475" fill="none" stroke="#42526e" stroke-width="1.0" stroke-linecap="round" stroke-linejoin="round"/>
<rect x="534.15" y="238.35" width="91.4" height="7.6" fill="#7a869a" rx="1.2" />
<rect x="13.4" y="255.1" width="4.9" height="4.5" rx="0.9" fill="#fff" stroke="#dfe1e6" stroke-width="0.8"/>
<text x="22.3" y="260.32500000000005" font-size="5.6" fill="#42526e" textLength="2.7" lengthAdjust="spacingAndGlyphs" stroke="#42526e" stroke-width="0.05" >6</text>
<polygon points="31.4,257.27500000000003 34.6,257.27500000000003 33,259.175" fill="#0d1424" stroke="#0d1424" stroke-width="0.5" stroke-linejoin="round"/>
<rect x="38" y="255.1" width="5.6" height="5.6" fill="#904ee2" rx="0.9" />
<path d="M41.6,256.0 L39.4,258.3 L40.8,258.3 L40.0,259.9 L42.2,257.5 L40.8,257.5 Z" fill="#fff"/>
<text x="46" y="260.32500000000005" font-size="5.9" fill="#0052cc" textLength="16.4" lengthAdjust="spacingAndGlyphs" stroke="#0052cc" stroke-width="0.05" >AP202</text>
<text x="196.4" y="260.32500000000005" font-size="5.9" fill="#172b4d" textLength="24.2" lengthAdjust="spacingAndGlyphs" stroke="#172b4d" stroke-width="0.05" >27/Jan/21</text>
<circle cx="240.4" cy="257.975" r="1.7" fill="none" stroke="#9da6b5" stroke-width="1.05"/>
<polygon points="242.9,250.0 246.5,250.0 246.5,253.6" fill="#ff991f"/>
<rect x="260.4" y="255.57500000000002" width="16.1" height="5.5" fill="#dfe1e6" rx="0.8" />
<text x="261.9" y="260.32500000000005" font-size="4.3" fill="#42526e" font-weight="bold" textLength="13.0" lengthAdjust="spacingAndGlyphs" >TO DO</text>
<path d="M288.8,261.975 v-1.8 q0,-1.9 1.9,-1.9 h1.6" fill="none" stroke="#6b778c" stroke-width="0.85"/><polygon points="291.7,256.675 293.4,258.27500000000003 291.7,259.875" fill="#6b778c"/>
<text x="295.2" y="260.32500000000005" font-size="5.3" fill="#6b778c" font-style="italic" textLength="6.4" lengthAdjust="spacingAndGlyphs" stroke="#6b778c" stroke-width="0.05" >25</text>
<path d="M337.5,260.27500000000003 V255.97500000000002 M335.8,257.675 L337.5,255.87500000000003 L339.2,257.675" fill="none" stroke="#ef4a45" stroke-width="0.95"/>
<text x="344" y="260.32500000000005" font-size="5.9" fill="#172b4d" textLength="11.2" lengthAdjust="spacingAndGlyphs" stroke="#172b4d" stroke-width="0.05" >High</text>
<polyline points="383.45000000000005,257.225 385.1,259.125 386.75,257.225" fill="none" stroke="#42526e" stroke-width="1.0" stroke-linecap="round" stroke-linejoin="round"/>
<rect x="625.65" y="254.1" width="91.4" height="7.6" fill="#7a869a" rx="1.2" />
<rect x="13.4" y="270.85" width="4.9" height="4.5" rx="0.9" fill="#fff" stroke="#dfe1e6" stroke-width="0.8"/>
<rect x="47.8" y="270.65" width="5.4" height="5.6" fill="#63ba3c" rx="0.9" />
<path d="M49.15,271.7 h2.7 v3.6 l-1.35,-1.0 l-1.35,1.0 Z" fill="#fff"/>
<text x="55.4" y="276.07500000000005" font-size="5.9" fill="#0052cc" textLength="6.7" lengthAdjust="spacingAndGlyphs" stroke="#0052cc" stroke-width="0.05" >AP</text>
<text x="196.4" y="276.07500000000005" font-size="5.9" fill="#172b4d" textLength="24.2" lengthAdjust="spacingAndGlyphs" stroke="#172b4d" stroke-width="0.05" >27/Jan/21</text>
<circle cx="240.4" cy="273.725" r="1.7" fill="none" stroke="#9da6b5" stroke-width="1.05"/>
<polygon points="242.9,265.75 246.5,265.75 246.5,269.35" fill="#ff991f"/>
<rect x="260.4" y="271.32500000000005" width="16.1" height="5.5" fill="#dfe1e6" rx="0.8" />
<text x="261.9" y="276.07500000000005" font-size="4.3" fill="#42526e" font-weight="bold" textLength="13.0" lengthAdjust="spacingAndGlyphs" >TO DO</text>
<text x="318.3" y="276.07500000000005" font-size="5.9" fill="#172b4d" text-anchor="end" textLength="6" lengthAdjust="spacingAndGlyphs" stroke="#172b4d" stroke-width="0.05" >25</text>
<path d="M337.5,276.02500000000003 V271.725 M335.8,273.425 L337.5,271.625 L339.2,273.425" fill="none" stroke="#ef4a45" stroke-width="0.95"/>
<text x="344" y="276.07500000000005" font-size="5.9" fill="#172b4d" textLength="11.2" lengthAdjust="spacingAndGlyphs" stroke="#172b4d" stroke-width="0.05" >High</text>
<polyline points="383.45000000000005,272.975 385.1,274.875 386.75,272.975" fill="none" stroke="#42526e" stroke-width="1.0" stroke-linecap="round" stroke-linejoin="round"/>
<rect x="625.65" y="269.85" width="91.4" height="7.6" fill="#7a869a" rx="1.2" />
<rect x="13.4" y="286.6" width="4.9" height="4.5" rx="0.9" fill="#fff" stroke="#dfe1e6" stroke-width="0.8"/>
<text x="22.3" y="291.82500000000005" font-size="5.6" fill="#42526e" textLength="2.7" lengthAdjust="spacingAndGlyphs" stroke="#42526e" stroke-width="0.05" >7</text>
<polygon points="31.4,288.77500000000003 34.6,288.77500000000003 33,290.675" fill="#0d1424" stroke="#0d1424" stroke-width="0.5" stroke-linejoin="round"/>
<rect x="38" y="286.6" width="5.6" height="5.6" fill="#904ee2" rx="0.9" />
<path d="M41.6,287.5 L39.4,289.8 L40.8,289.8 L40.0,291.4 L42.2,289.0 L40.8,289.0 Z" fill="#fff"/>
<text x="46" y="291.82500000000005" font-size="5.9" fill="#0052cc" textLength="16.4" lengthAdjust="spacingAndGlyphs" stroke="#0052cc" stroke-width="0.05" >AP202</text>
<text x="196.4" y="291.82500000000005" font-size="5.9" fill="#172b4d" textLength="24.2" lengthAdjust="spacingAndGlyphs" stroke="#172b4d" stroke-width="0.05" >27/Jan/21</text>
<circle cx="240.4" cy="289.475" r="1.7" fill="none" stroke="#9da6b5" stroke-width="1.05"/>
<polygon points="242.9,281.5 246.5,281.5 246.5,285.1" fill="#ff991f"/>
<rect x="260.4" y="287.07500000000005" width="16.1" height="5.5" fill="#dfe1e6" rx="0.8" />
<text x="261.9" y="291.82500000000005" font-size="4.3" fill="#42526e" font-weight="bold" textLength="13.0" lengthAdjust="spacingAndGlyphs" >TO DO</text>
<path d="M288.8,293.475 v-1.8 q0,-1.9 1.9,-1.9 h1.6" fill="none" stroke="#6b778c" stroke-width="0.85"/><polygon points="291.7,288.175 293.4,289.77500000000003 291.7,291.375" fill="#6b778c"/>
<text x="295.2" y="291.82500000000005" font-size="5.3" fill="#6b778c" font-style="italic" textLength="6.4" lengthAdjust="spacingAndGlyphs" stroke="#6b778c" stroke-width="0.05" >10</text>
<path d="M337.5,291.77500000000003 V287.475 M335.8,289.175 L337.5,287.375 L339.2,289.175" fill="none" stroke="#ee8030" stroke-width="0.95"/>
<text x="344" y="291.82500000000005" font-size="5.9" fill="#172b4d" textLength="20.2" lengthAdjust="spacingAndGlyphs" stroke="#172b4d" stroke-width="0.05" >Medium</text>
<polyline points="383.45000000000005,288.725 385.1,290.625 386.75,288.725" fill="none" stroke="#42526e" stroke-width="1.0" stroke-linecap="round" stroke-linejoin="round"/>
<rect x="625.65" y="285.6" width="91.4" height="7.6" fill="#7a869a" rx="1.2" />
<rect x="13.4" y="302.35" width="4.9" height="4.5" rx="0.9" fill="#fff" stroke="#dfe1e6" stroke-width="0.8"/>
<rect x="47.8" y="302.15" width="5.4" height="5.6" fill="#63ba3c" rx="0.9" />
<path d="M49.15,303.2 h2.7 v3.6 l-1.35,-1.0 l-1.35,1.0 Z" fill="#fff"/>
<text x="55.4" y="307.57500000000005" font-size="5.9" fill="#0052cc" textLength="6.7" lengthAdjust="spacingAndGlyphs" stroke="#0052cc" stroke-width="0.05" >AP</text>
<text x="196.4" y="307.57500000000005" font-size="5.9" fill="#172b4d" textLength="24.2" lengthAdjust="spacingAndGlyphs" stroke="#172b4d" stroke-width="0.05" >27/Jan/21</text>
<circle cx="240.4" cy="305.225" r="1.7" fill="none" stroke="#9da6b5" stroke-width="1.05"/>
<polygon points="242.9,297.25 246.5,297.25 246.5,300.85" fill="#ff991f"/>
<rect x="260.4" y="302.82500000000005" width="16.1" height="5.5" fill="#dfe1e6" rx="0.8" />
<text x="261.9" y="307.57500000000005" font-size="4.3" fill="#42526e" font-weight="bold" textLength="13.0" lengthAdjust="spacingAndGlyphs" >TO DO</text>
<text x="318.3" y="307.57500000000005" font-size="5.9" fill="#172b4d" text-anchor="end" textLength="6" lengthAdjust="spacingAndGlyphs" stroke="#172b4d" stroke-width="0.05" >10</text>
<path d="M337.5,307.52500000000003 V303.225 M335.8,304.925 L337.5,303.125 L339.2,304.925" fill="none" stroke="#ee8030" stroke-width="0.95"/>
<text x="344" y="307.57500000000005" font-size="5.9" fill="#172b4d" textLength="20.2" lengthAdjust="spacingAndGlyphs" stroke="#172b4d" stroke-width="0.05" >Medium</text>
<polyline points="383.45000000000005,304.475 385.1,306.375 386.75,304.475" fill="none" stroke="#42526e" stroke-width="1.0" stroke-linecap="round" stroke-linejoin="round"/>
<rect x="625.65" y="301.35" width="91.4" height="7.6" fill="#7a869a" rx="1.2" />
<rect x="13.4" y="318.1" width="4.9" height="4.5" rx="0.9" fill="#fff" stroke="#dfe1e6" stroke-width="0.8"/>
<text x="22.3" y="323.32500000000005" font-size="5.6" fill="#42526e" textLength="2.7" lengthAdjust="spacingAndGlyphs" stroke="#42526e" stroke-width="0.05" >8</text>
<polygon points="31.4,320.27500000000003 34.6,320.27500000000003 33,322.175" fill="#0d1424" stroke="#0d1424" stroke-width="0.5" stroke-linejoin="round"/>
<rect x="38" y="318.1" width="5.6" height="5.6" fill="#904ee2" rx="0.9" />
<path d="M41.6,319.0 L39.4,321.3 L40.8,321.3 L40.0,322.9 L42.2,320.5 L40.8,320.5 Z" fill="#fff"/>
<text x="46" y="323.32500000000005" font-size="5.9" fill="#0052cc" textLength="16.4" lengthAdjust="spacingAndGlyphs" stroke="#0052cc" stroke-width="0.05" >AP202</text>
<text x="196.4" y="323.32500000000005" font-size="5.9" fill="#172b4d" textLength="24.2" lengthAdjust="spacingAndGlyphs" stroke="#172b4d" stroke-width="0.05" >24/Feb/21</text>
<circle cx="240.4" cy="320.975" r="1.7" fill="none" stroke="#9da6b5" stroke-width="1.05"/>
<polygon points="242.9,313.0 246.5,313.0 246.5,316.6" fill="#ff991f"/>
<rect x="260.4" y="318.57500000000005" width="16.1" height="5.5" fill="#dfe1e6" rx="0.8" />
<text x="261.9" y="323.32500000000005" font-size="4.3" fill="#42526e" font-weight="bold" textLength="13.0" lengthAdjust="spacingAndGlyphs" >TO DO</text>
<path d="M288.8,324.975 v-1.8 q0,-1.9 1.9,-1.9 h1.6" fill="none" stroke="#6b778c" stroke-width="0.85"/><polygon points="291.7,319.675 293.4,321.27500000000003 291.7,322.875" fill="#6b778c"/>
<text x="295.2" y="323.32500000000005" font-size="5.3" fill="#6b778c" font-style="italic" textLength="3.1" lengthAdjust="spacingAndGlyphs" stroke="#6b778c" stroke-width="0.05" >5</text>
<path d="M337.5,323.27500000000003 V318.975 M335.8,320.675 L337.5,318.875 L339.2,320.675" fill="none" stroke="#ee8030" stroke-width="0.95"/>
<text x="344" y="323.32500000000005" font-size="5.9" fill="#172b4d" textLength="20.2" lengthAdjust="spacingAndGlyphs" stroke="#172b4d" stroke-width="0.05" >Medium</text>
<polyline points="383.45000000000005,320.225 385.1,322.125 386.75,320.225" fill="none" stroke="#42526e" stroke-width="1.0" stroke-linecap="round" stroke-linejoin="round"/>
<rect x="808.65" y="317.1" width="91.4" height="7.6" fill="#7a869a" rx="1.2" />
<rect x="13.4" y="333.85" width="4.9" height="4.5" rx="0.9" fill="#fff" stroke="#dfe1e6" stroke-width="0.8"/>
<rect x="47.8" y="333.65" width="5.4" height="5.6" fill="#63ba3c" rx="0.9" />
<path d="M49.15,334.7 h2.7 v3.6 l-1.35,-1.0 l-1.35,1.0 Z" fill="#fff"/>
<text x="55.4" y="339.07500000000005" font-size="5.9" fill="#0052cc" textLength="6.7" lengthAdjust="spacingAndGlyphs" stroke="#0052cc" stroke-width="0.05" >AP</text>
<text x="196.4" y="339.07500000000005" font-size="5.9" fill="#172b4d" textLength="24.2" lengthAdjust="spacingAndGlyphs" stroke="#172b4d" stroke-width="0.05" >24/Feb/21</text>
<circle cx="240.4" cy="336.725" r="1.7" fill="none" stroke="#9da6b5" stroke-width="1.05"/>
<polygon points="242.9,328.75 246.5,328.75 246.5,332.35" fill="#ff991f"/>
<rect x="260.4" y="334.32500000000005" width="16.1" height="5.5" fill="#dfe1e6" rx="0.8" />
<text x="261.9" y="339.07500000000005" font-size="4.3" fill="#42526e" font-weight="bold" textLength="13.0" lengthAdjust="spacingAndGlyphs" >TO DO</text>
<text x="318.3" y="339.07500000000005" font-size="5.9" fill="#172b4d" text-anchor="end" textLength="3" lengthAdjust="spacingAndGlyphs" stroke="#172b4d" stroke-width="0.05" >5</text>
<path d="M337.5,339.02500000000003 V334.725 M335.8,336.425 L337.5,334.625 L339.2,336.425" fill="none" stroke="#ee8030" stroke-width="0.95"/>
<text x="344" y="339.07500000000005" font-size="5.9" fill="#172b4d" textLength="20.2" lengthAdjust="spacingAndGlyphs" stroke="#172b4d" stroke-width="0.05" >Medium</text>
<polyline points="383.45000000000005,335.975 385.1,337.875 386.75,335.975" fill="none" stroke="#42526e" stroke-width="1.0" stroke-linecap="round" stroke-linejoin="round"/>
<rect x="808.65" y="332.85" width="91.4" height="7.6" fill="#7a869a" rx="1.2" />
<rect x="13.4" y="349.6" width="4.9" height="4.5" rx="0.9" fill="#fff" stroke="#dfe1e6" stroke-width="0.8"/>
<text x="22.3" y="354.82500000000005" font-size="5.6" fill="#42526e" textLength="2.7" lengthAdjust="spacingAndGlyphs" stroke="#42526e" stroke-width="0.05" >9</text>
<polygon points="31.4,351.77500000000003 34.6,351.77500000000003 33,353.675" fill="#0d1424" stroke="#0d1424" stroke-width="0.5" stroke-linejoin="round"/>
<rect x="38" y="349.6" width="5.6" height="5.6" fill="#904ee2" rx="0.9" />
<path d="M41.6,350.5 L39.4,352.8 L40.8,352.8 L40.0,354.4 L42.2,352.0 L40.8,352.0 Z" fill="#fff"/>
<text x="46" y="354.82500000000005" font-size="5.9" fill="#0052cc" textLength="16.4" lengthAdjust="spacingAndGlyphs" stroke="#0052cc" stroke-width="0.05" >AP202</text>
<text x="196.4" y="354.82500000000005" font-size="5.9" fill="#172b4d" textLength="24.2" lengthAdjust="spacingAndGlyphs" stroke="#172b4d" stroke-width="0.05" >24/Feb/21</text>
<circle cx="240.4" cy="352.475" r="1.7" fill="none" stroke="#9da6b5" stroke-width="1.05"/>
<polygon points="242.9,344.5 246.5,344.5 246.5,348.1" fill="#ff991f"/>
<rect x="260.4" y="350.07500000000005" width="16.1" height="5.5" fill="#dfe1e6" rx="0.8" />
<text x="261.9" y="354.82500000000005" font-size="4.3" fill="#42526e" font-weight="bold" textLength="13.0" lengthAdjust="spacingAndGlyphs" >TO DO</text>
<path d="M288.8,356.475 v-1.8 q0,-1.9 1.9,-1.9 h1.6" fill="none" stroke="#6b778c" stroke-width="0.85"/><polygon points="291.7,351.175 293.4,352.77500000000003 291.7,354.375" fill="#6b778c"/>
<text x="295.2" y="354.82500000000005" font-size="5.3" fill="#6b778c" font-style="italic" textLength="6.4" lengthAdjust="spacingAndGlyphs" stroke="#6b778c" stroke-width="0.05" >10</text>
<path d="M337.5,350.27500000000003 V354.475 M335.8,352.77500000000003 L337.5,354.57500000000005 L339.2,352.77500000000003" fill="none" stroke="#2a8735" stroke-width="0.95"/>
<text x="344" y="354.82500000000005" font-size="5.9" fill="#172b4d" textLength="9.8" lengthAdjust="spacingAndGlyphs" stroke="#172b4d" stroke-width="0.05" >Low</text>
<polyline points="383.45000000000005,351.725 385.1,353.625 386.75,351.725" fill="none" stroke="#42526e" stroke-width="1.0" stroke-linecap="round" stroke-linejoin="round"/>
<polygon points="389.79999999999995,344.5 393.4,344.5 393.4,348.1" fill="#ff991f"/>
<rect x="808.65" y="348.6" width="91.4" height="7.6" fill="#7a869a" rx="1.2" />
<rect x="13.4" y="365.35" width="4.9" height="4.5" rx="0.9" fill="#fff" stroke="#dfe1e6" stroke-width="0.8"/>
<rect x="47.8" y="365.15" width="5.4" height="5.6" fill="#63ba3c" rx="0.9" />
<path d="M49.15,366.2 h2.7 v3.6 l-1.35,-1.0 l-1.35,1.0 Z" fill="#fff"/>
<text x="55.4" y="370.57500000000005" font-size="5.9" fill="#0052cc" textLength="6.7" lengthAdjust="spacingAndGlyphs" stroke="#0052cc" stroke-width="0.05" >AP</text>
<text x="196.4" y="370.57500000000005" font-size="5.9" fill="#172b4d" textLength="24.2" lengthAdjust="spacingAndGlyphs" stroke="#172b4d" stroke-width="0.05" >24/Feb/21</text>
<circle cx="240.4" cy="368.225" r="1.7" fill="none" stroke="#9da6b5" stroke-width="1.05"/>
<polygon points="242.9,360.25 246.5,360.25 246.5,363.85" fill="#ff991f"/>
<rect x="260.4" y="365.82500000000005" width="16.1" height="5.5" fill="#dfe1e6" rx="0.8" />
<text x="261.9" y="370.57500000000005" font-size="4.3" fill="#42526e" font-weight="bold" textLength="13.0" lengthAdjust="spacingAndGlyphs" >TO DO</text>
<text x="318.3" y="370.57500000000005" font-size="5.9" fill="#172b4d" text-anchor="end" textLength="6" lengthAdjust="spacingAndGlyphs" stroke="#172b4d" stroke-width="0.05" >10</text>
<path d="M337.5,366.02500000000003 V370.225 M335.8,368.52500000000003 L337.5,370.32500000000005 L339.2,368.52500000000003" fill="none" stroke="#2a8735" stroke-width="0.95"/>
<text x="344" y="370.57500000000005" font-size="5.9" fill="#172b4d" textLength="9.8" lengthAdjust="spacingAndGlyphs" stroke="#172b4d" stroke-width="0.05" >Low</text>
<polyline points="383.45000000000005,367.475 385.1,369.375 386.75,367.475" fill="none" stroke="#42526e" stroke-width="1.0" stroke-linecap="round" stroke-linejoin="round"/>
<polygon points="389.79999999999995,360.25 393.4,360.25 393.4,363.85" fill="#ff991f"/>
<rect x="808.65" y="364.35" width="91.4" height="7.6" fill="#7a869a" rx="1.2" />
<rect x="13.4" y="381.1" width="4.9" height="4.5" rx="0.9" fill="#fff" stroke="#dfe1e6" stroke-width="0.8"/>
<text x="22.3" y="386.32500000000005" font-size="5.6" fill="#42526e" textLength="5.3" lengthAdjust="spacingAndGlyphs" stroke="#42526e" stroke-width="0.05" >10</text>
<polygon points="31.4,383.27500000000003 34.6,383.27500000000003 33,385.175" fill="#0d1424" stroke="#0d1424" stroke-width="0.5" stroke-linejoin="round"/>
<rect x="38" y="381.1" width="5.6" height="5.6" fill="#904ee2" rx="0.9" />
<path d="M41.6,382.0 L39.4,384.3 L40.8,384.3 L40.0,385.9 L42.2,383.5 L40.8,383.5 Z" fill="#fff"/>
<text x="46" y="386.32500000000005" font-size="5.9" fill="#0052cc" textLength="16.4" lengthAdjust="spacingAndGlyphs" stroke="#0052cc" stroke-width="0.05" >AP202</text>
<text x="196.4" y="386.32500000000005" font-size="5.9" fill="#172b4d" textLength="24.2" lengthAdjust="spacingAndGlyphs" stroke="#172b4d" stroke-width="0.05" >24/Feb/21</text>
<circle cx="240.4" cy="383.975" r="1.7" fill="none" stroke="#9da6b5" stroke-width="1.05"/>
<polygon points="242.9,376.0 246.5,376.0 246.5,379.6" fill="#ff991f"/>
<rect x="260.4" y="381.57500000000005" width="16.1" height="5.5" fill="#dfe1e6" rx="0.8" />
<text x="261.9" y="386.32500000000005" font-size="4.3" fill="#42526e" font-weight="bold" textLength="13.0" lengthAdjust="spacingAndGlyphs" >TO DO</text>
<path d="M288.8,387.975 v-1.8 q0,-1.9 1.9,-1.9 h1.6" fill="none" stroke="#6b778c" stroke-width="0.85"/><polygon points="291.7,382.675 293.4,384.27500000000003 291.7,385.875" fill="#6b778c"/>
<text x="295.2" y="386.32500000000005" font-size="5.3" fill="#6b778c" font-style="italic" textLength="3.1" lengthAdjust="spacingAndGlyphs" stroke="#6b778c" stroke-width="0.05" >5</text>
<path d="M337.5,386.27500000000003 V381.975 M335.8,383.675 L337.5,381.875 L339.2,383.675" fill="none" stroke="#ef4a45" stroke-width="0.95"/>
<text x="344" y="386.32500000000005" font-size="5.9" fill="#172b4d" textLength="11.2" lengthAdjust="spacingAndGlyphs" stroke="#172b4d" stroke-width="0.05" >High</text>
<polyline points="383.45000000000005,383.225 385.1,385.125 386.75,383.225" fill="none" stroke="#42526e" stroke-width="1.0" stroke-linecap="round" stroke-linejoin="round"/>
<rect x="808.65" y="380.1" width="91.4" height="7.6" fill="#7a869a" rx="1.2" />
<rect x="13.4" y="396.85" width="4.9" height="4.5" rx="0.9" fill="#fff" stroke="#dfe1e6" stroke-width="0.8"/>
<rect x="47.8" y="396.65" width="5.4" height="5.6" fill="#63ba3c" rx="0.9" />
<path d="M49.15,397.7 h2.7 v3.6 l-1.35,-1.0 l-1.35,1.0 Z" fill="#fff"/>
<text x="55.4" y="402.07500000000005" font-size="5.9" fill="#0052cc" textLength="6.7" lengthAdjust="spacingAndGlyphs" stroke="#0052cc" stroke-width="0.05" >AP</text>
<text x="196.4" y="402.07500000000005" font-size="5.9" fill="#172b4d" textLength="24.2" lengthAdjust="spacingAndGlyphs" stroke="#172b4d" stroke-width="0.05" >24/Feb/21</text>
<circle cx="240.4" cy="399.725" r="1.7" fill="none" stroke="#9da6b5" stroke-width="1.05"/>
<polygon points="242.9,391.75 246.5,391.75 246.5,395.35" fill="#ff991f"/>
<rect x="260.4" y="397.32500000000005" width="16.1" height="5.5" fill="#dfe1e6" rx="0.8" />
<text x="261.9" y="402.07500000000005" font-size="4.3" fill="#42526e" font-weight="bold" textLength="13.0" lengthAdjust="spacingAndGlyphs" >TO DO</text>
<text x="318.3" y="402.07500000000005" font-size="5.9" fill="#172b4d" text-anchor="end" textLength="3" lengthAdjust="spacingAndGlyphs" stroke="#172b4d" stroke-width="0.05" >5</text>
<path d="M337.5,402.02500000000003 V397.725 M335.8,399.425 L337.5,397.625 L339.2,399.425" fill="none" stroke="#ef4a45" stroke-width="0.95"/>
<text x="344" y="402.07500000000005" font-size="5.9" fill="#172b4d" textLength="11.2" lengthAdjust="spacingAndGlyphs" stroke="#172b4d" stroke-width="0.05" >High</text>
<polyline points="383.45000000000005,398.975 385.1,400.875 386.75,398.975" fill="none" stroke="#42526e" stroke-width="1.0" stroke-linecap="round" stroke-linejoin="round"/>
<rect x="808.65" y="395.85" width="91.4" height="7.6" fill="#7a869a" rx="1.2" />
</svg>
</body></html>
